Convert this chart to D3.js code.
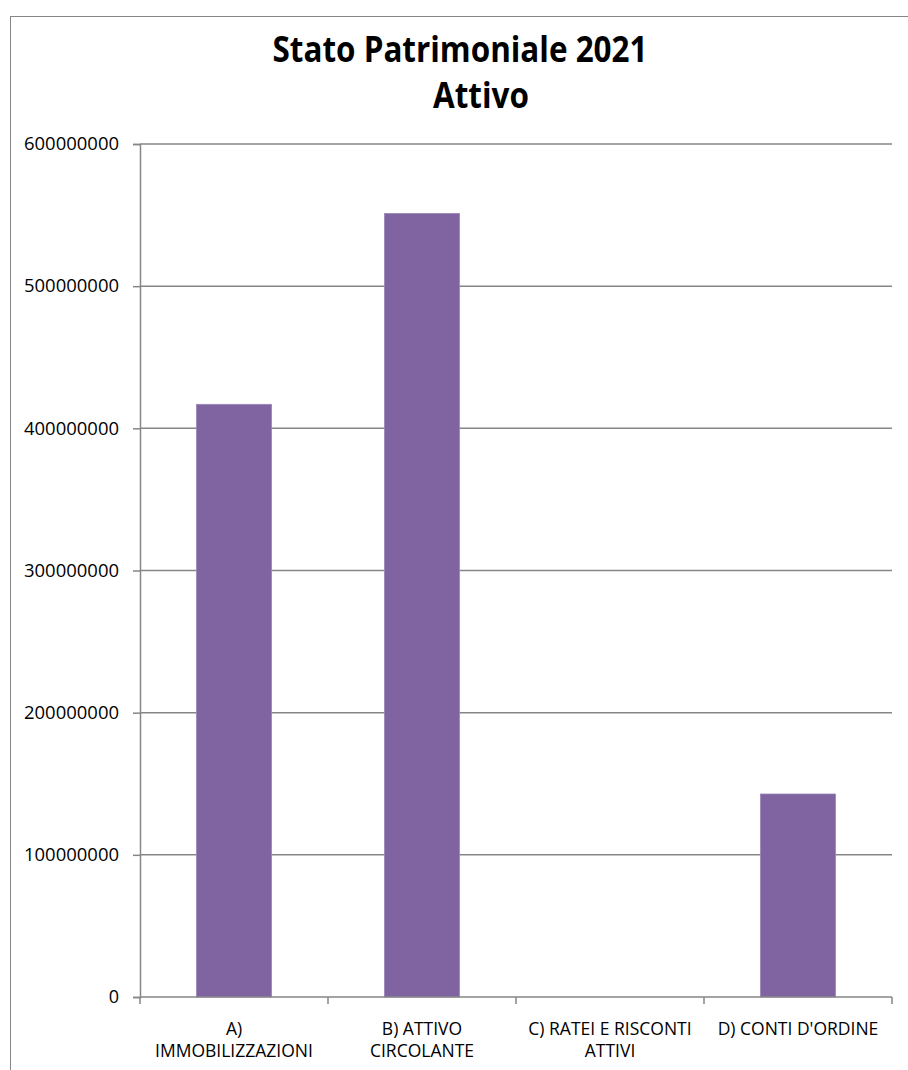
<!DOCTYPE html>
<html><head><meta charset="utf-8">
<script src="https://cdn.jsdelivr.net/npm/d3@7"></script>
<style>body{margin:0;background:#fff}svg{display:block}</style>
</head><body>
<script>
const categories = [["A)","IMMOBILIZZAZIONI"],["B) ATTIVO","CIRCOLANTE"],["C) RATEI E RISCONTI","ATTIVI"],["D) CONTI D'ORDINE"]];
const values = [416900000, 551200000, 0, 142800000];
const yTicks = [0,100000000,200000000,300000000,400000000,500000000,600000000];
const titleLines = ["Stato Patrimoniale 2021","Attivo"];

const W=908,H=1070;
const svg=d3.select("body").append("svg").attr("width",W).attr("height",H);
svg.append("rect").attr("x",10.5).attr("y",16.5).attr("width",W+20).attr("height",H+20)
  .attr("fill","#fff").attr("stroke","#868686").attr("stroke-width",1);

const x0=140,x1=892,yTop=144,yBot=997;
const x=d3.scaleBand().domain(categories.map((d,i)=>i)).range([x0,x1]).padding(0);
const y=d3.scaleLinear().domain([0,600000000]).range([yBot,yTop]);
const font="'Open Sans', 'Noto Sans', sans-serif";
const grey="#868686";

// gridlines
svg.append("g").selectAll("line").data(yTicks.filter(d=>d>0)).join("line")
  .attr("x1",x0).attr("x2",x1).attr("y1",d=>y(d)).attr("y2",d=>y(d))
  .attr("stroke",grey).attr("stroke-width",1.5);

// bars
const bw=x.bandwidth()*0.4;
svg.append("g").selectAll("rect").data(values).join("rect")
  .attr("x",(d,i)=>x(i)+(x.bandwidth()-bw)/2).attr("width",bw)
  .attr("y",d=>y(d)).attr("height",d=>yBot-y(d))
  .attr("fill","#8064A2").attr("stroke","#9a86b8").attr("stroke-width",0.75);

// y axis
const ya=svg.append("g").attr("transform",`translate(${x0},0)`)
  .call(d3.axisLeft(y).tickValues(yTicks).tickFormat(d3.format("d")).tickSize(7).tickPadding(14));
ya.select(".domain").attr("stroke",grey).attr("stroke-width",1.5);
ya.selectAll(".tick line").attr("stroke",grey).attr("stroke-width",1.5);
ya.selectAll("text").attr("font-family",font).attr("font-size",18).attr("fill","#000")
  .attr("textLength",95).attr("lengthAdjust","spacingAndGlyphs");
ya.selectAll(".tick").filter(d=>d===0).select("text").attr("textLength",null);

// x axis
const xa=svg.append("g").attr("transform",`translate(0,${yBot})`);
xa.append("line").attr("x1",x0).attr("x2",x1).attr("stroke",grey).attr("stroke-width",1.5);
const edges=categories.map((d,i)=>x(i)).concat([x1]);
xa.selectAll("line.t").data(edges).join("line").attr("class","t")
  .attr("x1",d=>d).attr("x2",d=>d).attr("y1",0).attr("y2",7).attr("stroke",grey).attr("stroke-width",1.5);
const lab=svg.append("g");
categories.forEach((d,i)=>{
  d.forEach((t,j)=>{
    lab.append("text").attr("font-family",font).attr("font-size",17.5).attr("text-anchor","middle")
      .attr("fill","#000").attr("x",x(i)+x.bandwidth()/2).attr("y",1035+j*22).text(t);
  });
});

// title
const tEls=titleLines.map((t,i)=>svg.append("text").attr("x",i===0?460:481).attr("y",i===0?62:108)
  .attr("text-anchor","middle").attr("font-family",font).attr("font-weight","bold")
  .attr("font-size",36).attr("fill","#000").text(t));
const sx=375/tEls[0].node().getComputedTextLength();
tEls.forEach(el=>{
  const w=el.node().getComputedTextLength();
  el.attr("textLength",w*sx).attr("lengthAdjust","spacingAndGlyphs");
});
</script>
</body></html>
